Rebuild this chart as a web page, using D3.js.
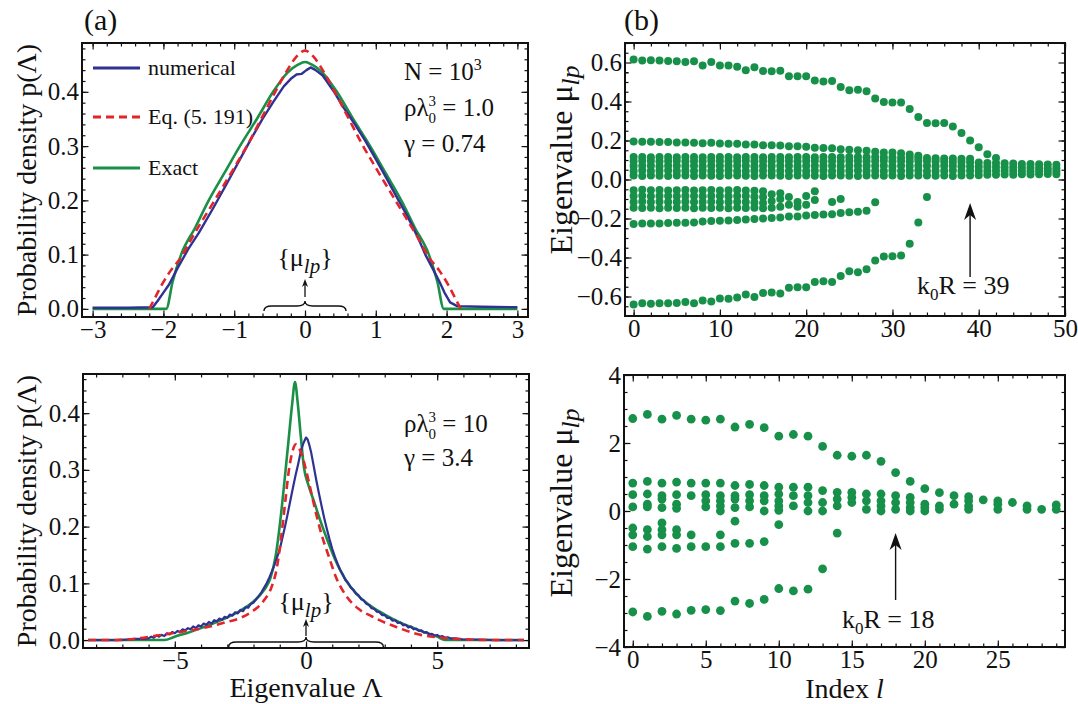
<!DOCTYPE html>
<html><head><meta charset="utf-8">
<script src="https://cdn.jsdelivr.net/npm/d3@7"></script>
<style>
body{margin:0;background:#fff}
svg{display:block}
text{font-family:"Liberation Serif","Times New Roman",serif;fill:#111}
</style>
</head><body>
<svg id="c" width="1078" height="704"></svg>
<script>
// ---------------- DATA ----------------
// Panel (a) top: N=10^3, rho*lambda^3 = 1.0
const aNumerical = [[-3,0.002],[-2.5,0.002],[-2.15,0.003],[-2.08,0.015],[-2.0,0.03],[-1.92,0.045],[-1.8,0.075],[-1.65,0.11],[-1.5,0.14],[-1.3,0.185],[-1.1,0.232],[-0.9,0.28],[-0.75,0.316],[-0.6,0.35],[-0.45,0.381],[-0.3,0.41],[-0.2,0.424],[-0.12,0.432],[-0.05,0.433],[0.02,0.44],[0.08,0.445],[0.15,0.44],[0.25,0.43],[0.4,0.402],[0.55,0.37],[0.7,0.341],[0.85,0.31],[1.0,0.276],[1.15,0.241],[1.3,0.205],[1.45,0.17],[1.6,0.13],[1.7,0.1],[1.8,0.075],[1.9,0.05],[1.97,0.03],[2.05,0.012],[2.15,0.005],[2.5,0.004],[3,0.003]];
const aEq = [[-2.2,0],[-2.12,0.02],[-2.02,0.045],[-1.9,0.07],[-1.75,0.095],[-1.6,0.13],[-1.3,0.195],[-1.0,0.26],[-0.8,0.305],[-0.6,0.355],[-0.42,0.4],[-0.25,0.44],[-0.12,0.465],[0,0.476],[0.12,0.465],[0.25,0.44],[0.42,0.4],[0.6,0.355],[0.8,0.305],[1.0,0.26],[1.3,0.195],[1.6,0.13],[1.75,0.095],[1.9,0.07],[2.02,0.045],[2.12,0.02],[2.2,0]];
const aExact = [[-3,0],[-1.96,0],[-1.87,0.05],[-1.75,0.1],[-1.55,0.15],[-1.36,0.2],[-1.14,0.25],[-0.92,0.3],[-0.68,0.35],[-0.45,0.4],[-0.25,0.435],[-0.1,0.45],[0,0.455],[0.1,0.45],[0.25,0.435],[0.45,0.4],[0.68,0.35],[0.92,0.3],[1.14,0.25],[1.36,0.2],[1.55,0.15],[1.75,0.1],[1.87,0.05],[1.96,0],[3,0]];

// Panel (a) bottom: rho*lambda^3 = 10
const cNumerical = [[-8.3,0],[-7.2,0],[-6.8,0.001],[-6.5,0.002],[-6.2,0.002],[-6.0,0.003],[-5.9,0.006],[-5.8,0.004],[-5.7,0.008],[-5.6,0.006],[-5.5,0.009],[-5.4,0.007],[-5.3,0.012],[-5.2,0.01],[-5.1,0.014],[-5.0,0.012],[-4.9,0.016],[-4.8,0.014],[-4.7,0.019],[-4.6,0.017],[-4.5,0.021],[-4.4,0.019],[-4.3,0.024],[-4.2,0.021],[-4.1,0.026],[-4.0,0.024],[-3.9,0.029],[-3.8,0.027],[-3.7,0.032],[-3.6,0.029],[-3.5,0.035],[-3.4,0.033],[-3.3,0.038],[-3.2,0.036],[-3.1,0.041],[-3.0,0.039],[-2.9,0.045],[-2.8,0.043],[-2.7,0.049],[-2.6,0.047],[-2.5,0.053],[-2.4,0.051],[-2.3,0.058],[-2.2,0.057],[-2.1,0.064],[-2.0,0.066],[-1.9,0.072],[-1.8,0.078],[-1.7,0.084],[-1.6,0.092],[-1.5,0.1],[-1.4,0.11],[-1.3,0.121],[-1.2,0.133],[-1.1,0.146],[-1.0,0.16],[-0.9,0.18],[-0.8,0.2],[-0.7,0.222],[-0.6,0.245],[-0.5,0.268],[-0.4,0.29],[-0.3,0.31],[-0.2,0.332],[-0.1,0.347],[0,0.357],[0.06,0.354],[0.12,0.345],[0.2,0.33],[0.3,0.305],[0.4,0.28],[0.5,0.257],[0.6,0.235],[0.7,0.214],[0.8,0.195],[0.9,0.177],[1.0,0.161],[1.1,0.147],[1.2,0.135],[1.3,0.124],[1.4,0.116],[1.5,0.106],[1.6,0.101],[1.7,0.093],[1.8,0.089],[1.9,0.082],[2.0,0.079],[2.1,0.072],[2.2,0.07],[2.3,0.064],[2.4,0.062],[2.5,0.056],[2.6,0.055],[2.7,0.05],[2.8,0.049],[2.9,0.044],[3.0,0.044],[3.1,0.039],[3.2,0.039],[3.3,0.034],[3.4,0.035],[3.5,0.03],[3.6,0.031],[3.7,0.026],[3.8,0.027],[3.9,0.022],[4.0,0.024],[4.1,0.019],[4.2,0.02],[4.3,0.016],[4.4,0.017],[4.5,0.013],[4.6,0.014],[4.7,0.01],[4.8,0.011],[4.9,0.008],[5.0,0.009],[5.1,0.006],[5.2,0.007],[5.3,0.004],[5.4,0.005],[5.5,0.003],[5.7,0.003],[6.0,0.001],[6.5,0.001],[7.2,0],[8.3,0]];
const cEq = [[-8.3,0],[-7.2,0],[-6.4,0.003],[-5.8,0.007],[-5.1,0.012],[-4.4,0.017],[-3.75,0.023],[-3.1,0.031],[-2.45,0.04],[-2,0.052],[-1.6,0.07],[-1.3,0.095],[-1.1,0.13],[-0.95,0.18],[-0.8,0.24],[-0.65,0.3],[-0.5,0.335],[-0.4,0.345],[-0.28,0.34],[-0.15,0.325],[0,0.3],[0.2,0.26],[0.4,0.22],[0.6,0.185],[0.85,0.15],[1.15,0.11],[1.5,0.08],[2,0.055],[2.5,0.042],[2.8,0.035],[3.5,0.022],[4.2,0.011],[5.2,0.004],[6.2,0.001],[7,0],[8.3,0]];
const cExact = [[-8.3,0],[-5.4,0],[-5.0,0.006],[-4.5,0.013],[-4,0.021],[-3.5,0.03],[-3,0.04],[-2.5,0.052],[-2,0.068],[-1.6,0.088],[-1.35,0.11],[-1.15,0.15],[-0.98,0.21],[-0.82,0.28],[-0.67,0.35],[-0.53,0.415],[-0.42,0.455],[-0.32,0.42],[-0.2,0.36],[-0.08,0.305],[0.1,0.272],[0.3,0.245],[0.55,0.21],[0.8,0.178],[1.1,0.143],[1.6,0.1],[2,0.078],[2.5,0.059],[3,0.045],[3.5,0.033],[4,0.023],[4.5,0.014],[5,0.006],[5.3,0],[8.3,0]];

// Panel (b) top: eigenvalues mu_lp vs index l (k0R = 39)
const bTop = [0.615,0.61,0.612,0.61,0.608,0.607,0.603,0.607,0.585,0.602,0.585,0.585,0.578,0.56,0.576,0.556,0.555,0.558,0.529,0.53,0.53,0.508,0.502,0.505,0.475,0.458,0.46,0.452,0.415,0.397,0.395,0.395,0.362,0.32,0.29,0.288,0.29,0.272,0.238,0.2,0.166,0.13,0.11];
const bSecond = [0.195,0.193,0.193,0.192,0.192,0.19,0.19,0.188,0.186,0.188,0.185,0.183,0.183,0.18,0.18,0.176,0.176,0.175,0.17,0.17,0.168,0.163,0.162,0.16,0.155,0.152,0.15,0.148,0.142,0.138,0.138,0.135,0.128,0.122];
const bBand1 = [0.02,0.018,0.02,0.019,0.018,0.02,0.02,0.018,0.02,0.019,0.018,0.02,0.021,0.019,0.018,0.02,0.02,0.019,0.018,0.02,0.02,0.019,0.018,0.02,0.021,0.019,0.018,0.02,0.02,0.019,0.02,0.018,0.02,0.021,0.02,0.019,0.02,0.018,0.02,0.021,0.022,0.024,0.025,0.026,0.025,0.027,0.026,0.027,0.028,0.027];
const bBand2 = [0.044,0.046,0.043,0.045,0.046,0.044,0.045,0.043,0.046,0.044,0.045,0.046,0.044,0.043,0.045,0.046,0.044,0.045,0.043,0.046,0.044,0.045,0.046,0.044,0.043,0.045,0.046,0.044,0.045,0.043,0.046,0.044,0.045,0.046,0.044,0.043,0.045,0.046,0.044,0.045,0.044,0.043,0.045,0.044,0.043,0.044,0.042,0.043,0.044,0.042];
const bBand3 = [0.069,0.071,0.07,0.068,0.07,0.071,0.069,0.07,0.068,0.071,0.07,0.069,0.07,0.071,0.068,0.07,0.069,0.071,0.07,0.068,0.07,0.071,0.069,0.07,0.068,0.071,0.07,0.069,0.07,0.071,0.068,0.07,0.069,0.071,0.07,0.068,0.07,0.069,0.068,0.067,0.066,0.065,0.064,0.063,0.062,0.06,0.06,0.059,0.058,0.058];
const bBand4 = [0.094,0.096,0.095,0.093,0.095,0.096,0.094,0.095,0.093,0.096,0.095,0.094,0.095,0.096,0.093,0.095,0.094,0.096,0.095,0.093,0.095,0.096,0.094,0.095,0.093,0.096,0.095,0.094,0.095,0.096,0.093,0.095,0.094,0.096,0.095,0.093,0.092,0.09,0.09,0.088,0.087,0.085,0.084,0.083,0.082,0.08,0.079,0.078,0.077,0.076];
const bBand5 = [0.115,0.116,0.114,0.116,0.115,0.114,0.116,0.115,0.114,0.116,0.115,0.116,0.114,0.115,0.116,0.114,0.115,0.116,0.114,0.115,0.116,0.114,0.115,0.116,0.114,0.115,0.116,0.114,0.115,0.114,0.113,0.112,0.111,0.11,0.11,0.109,0.108,0.108,0.107,0.106];
const bNegBand = [[-0.055,-0.085,-0.115,-0.145],[-0.053,-0.083,-0.113,-0.146],[-0.055,-0.086,-0.116,-0.145],[-0.054,-0.084,-0.114,-0.147],[-0.056,-0.085,-0.115,-0.145],[-0.055,-0.086,-0.116,-0.146],[-0.054,-0.084,-0.114,-0.145],[-0.056,-0.085,-0.115,-0.147],[-0.055,-0.086,-0.116,-0.145],[-0.054,-0.084,-0.114,-0.146],[-0.056,-0.085,-0.115,-0.145],[-0.055,-0.086,-0.116,-0.147],[-0.054,-0.084,-0.114,-0.145],[-0.056,-0.085,-0.115,-0.146],[-0.058,-0.088,-0.118,-0.145],[-0.06,-0.09,-0.12,-0.148],[-0.075,-0.11,-0.145],[-0.07,-0.1,-0.14],[-0.09,-0.13],[-0.115,-0.14],[-0.085,-0.13],[-0.06,-0.105],[],[-0.115],[-0.1]];
const bThird = [-0.228,-0.226,-0.225,-0.225,-0.223,-0.222,-0.222,-0.22,-0.215,-0.213,-0.212,-0.21,-0.208,-0.205,-0.203,-0.2,-0.197,-0.195,-0.19,-0.19,-0.185,-0.182,-0.18,-0.178,-0.172,-0.168,-0.165,-0.16,-0.117];
const bBottom = [-0.641,-0.635,-0.637,-0.635,-0.635,-0.633,-0.628,-0.635,-0.62,-0.625,-0.61,-0.612,-0.605,-0.59,-0.603,-0.582,-0.58,-0.585,-0.555,-0.552,-0.552,-0.525,-0.522,-0.525,-0.495,-0.47,-0.475,-0.46,-0.415,-0.395,-0.393,-0.39,-0.33,-0.22,-0.09];

// Panel (b) bottom: eigenvalues mu_lp vs index l (k0R = 18)
const dTop = [2.72,2.84,2.7,2.81,2.7,2.67,2.7,2.47,2.55,2.45,2.2,2.25,2.2,1.9,1.64,1.61,1.64,1.46,1.13,0.87,0.66,0.54,0.45,0.42,0.33,0.3,0.25];
const dMid = [[0.82,0.48,0.12],[0.87,0.5,0.2,0.12],[0.82,0.45,0.35,0.1],[0.85,0.48,0.2,0.08],[0.82,0.45],[0.82,0.48,0.3,0.12],[0.82,0.45,0.3,0.15,0.0],[0.75,0.45,0.35,0.1],[0.78,0.48,0.3,0.12],[0.75,0.45,0.3,0.0],[0.7,0.5,0.3,0.15,0.02],[0.7,0.45,0.15],[0.7,0.45,0.25,0.0],[0.6,0.25,0.0],[0.55,0.35,0.15],[0.55,0.4,0.25],[0.5,0.3,0.05],[0.5,0.3,0.15,0.0],[0.45,0.25,0.05],[0.4,0.25,0.1,0.0],[0.2,0.1,0.0],[0.15,0.05],[0.2],[0.3,0.15,0.05],[],[0.2,0.05],[],[0.15,0.05],[0.05],[0.18,0.05]];
const dNeg = [[-0.5,-0.7,-1.05],[-0.55,-0.75,-1.12],[-0.35,-0.55,-0.7,-1.05],[-0.55,-0.7,-1.1],[-0.7,-1.05],[-1.05],[-0.7,-1.05],[-0.3,-0.95],[-0.95],[-0.9],[-0.4],[],[],[],[-0.65]];
const dBottom = [-2.97,-3.1,-2.95,-3.03,-2.92,-2.9,-2.93,-2.65,-2.72,-2.6,-2.28,-2.35,-2.3,-1.7];

// tick values
const aXTicks = [-3,-2,-1,0,1,2,3];
const pYTicks = [0,0.1,0.2,0.3,0.4];
const cXTicks = [-5,0,5];
const bXTicks = [0,10,20,30,40,50];
const bYTicks = [-0.6,-0.4,-0.2,0,0.2,0.4,0.6];
const dXTicks = [0,5,10,15,20,25];
const dYTicks = [-4,-2,0,2,4];

// ---------------- DRAWING ----------------
const svg = d3.select("#c");
const BLUE = "#2f3193", RED = "#e2242b", GREEN = "#1a8f45", DOT = "#17904a";
const TICKFONT = 25;

function panel(o){
  const x = d3.scaleLinear().domain(o.xd).range([o.l,o.r]);
  const y = d3.scaleLinear().domain(o.yd).range([o.b,o.t]);
  const g = svg.append("g");
  const style = s => { s.select(".domain").remove(); s.attr("font-family",null).attr("font-size",TICKFONT).attr("color","#111"); s.selectAll("line").attr("stroke-width",1.2); };
  const xMinor = d3.range(o.xd[0]-1e-9, o.xd[1], o.xMinorStep).map(v=>Math.round(Math.ceil(v/o.xMinorStep)*o.xMinorStep*1e6)/1e6).filter(v=>v>=o.xd[0]&&v<=o.xd[1]);
  const yMinor = d3.range(o.yd[0], o.yd[1], o.yMinorStep).map(v=>Math.round(Math.ceil(v/o.yMinorStep)*o.yMinorStep*1e6)/1e6).filter(v=>v>=o.yd[0]&&v<=o.yd[1]);
  g.append("g").attr("transform",`translate(0,${o.b})`).call(d3.axisBottom(x).tickValues(xMinor).tickSize(-3.5).tickFormat("")).call(style);
  g.append("g").attr("transform",`translate(0,${o.t})`).call(d3.axisTop(x).tickValues(xMinor).tickSize(-3.5).tickFormat("")).call(style);
  g.append("g").attr("transform",`translate(${o.l},0)`).call(d3.axisLeft(y).tickValues(yMinor).tickSize(-3.5).tickFormat("")).call(style);
  g.append("g").attr("transform",`translate(${o.r},0)`).call(d3.axisRight(y).tickValues(yMinor).tickSize(-3.5).tickFormat("")).call(style);
  g.append("g").attr("transform",`translate(0,${o.b})`).call(d3.axisBottom(x).tickValues(o.xTicks).tickSize(-6.5).tickPadding(o.xPad).tickFormat(o.xFmt)).call(style);
  g.append("g").attr("transform",`translate(0,${o.t})`).call(d3.axisTop(x).tickValues(o.xTicks).tickSize(-6.5).tickFormat("")).call(style);
  g.append("g").attr("transform",`translate(${o.l},0)`).call(d3.axisLeft(y).tickValues(o.yTicks).tickSize(-6.5).tickPadding(o.yPad).tickFormat(o.yFmt)).call(style);
  g.append("g").attr("transform",`translate(${o.r},0)`).call(d3.axisRight(y).tickValues(o.yTicks).tickSize(-6.5).tickFormat("")).call(style);
  const clip = "clip"+Math.round(o.l)+"_"+Math.round(o.t);
  svg.append("clipPath").attr("id",clip).append("rect").attr("x",o.l).attr("y",o.t).attr("width",o.r-o.l).attr("height",o.b-o.t);
  const plot = g.append("g").attr("clip-path",`url(#${clip})`);
  g.append("rect").attr("x",o.l).attr("y",o.t).attr("width",o.r-o.l).attr("height",o.b-o.t).attr("fill","none").attr("stroke","#111").attr("stroke-width",2);
  return {g,plot,x,y};
}

function curve(p, data, color, dash, w, linear){
  const line = d3.line().x(d=>p.x(d[0])).y(d=>p.y(d[1])).curve(linear ? d3.curveLinear : d3.curveMonotoneX);
  p.plot.append("path").attr("d",line(data)).attr("fill","none").attr("stroke",color).attr("stroke-width",w||2.4).attr("stroke-dasharray",dash||null).attr("stroke-linejoin","round");
}

function dots(p, pts, r){
  p.plot.selectAll(null).data(pts).enter().append("circle").attr("cx",d=>p.x(d[0])).attr("cy",d=>p.y(d[1])).attr("r",r).attr("fill",DOT);
}
const series = arr => arr.map((v,i)=>[i,v]).filter(d=>d[1]!=null);
const groups = arr => arr.flatMap((vs,i)=>vs.map(v=>[i,v]));

function brace(g, x1, x2, y){
  const xm=(x1+x2)/2, h=5;
  g.append("path").attr("d",`M${x1},${y+h} Q${x1},${y} ${x1+8},${y} L${xm-8},${y} Q${xm},${y} ${xm},${y-h} Q${xm},${y} ${xm+8},${y} L${x2-8},${y} Q${x2},${y} ${x2},${y+h}`)
   .attr("fill","none").attr("stroke","#111").attr("stroke-width",1.4);
}
function arrow(g, x, y1, y2, hw, hl, sw){
  g.append("line").attr("x1",x).attr("x2",x).attr("y1",y1).attr("y2",y2+hl*0.6).attr("stroke","#111").attr("stroke-width",sw);
  g.append("path").attr("d",`M${x},${y2} L${x-hw},${y2+hl} L${x},${y2+hl*0.7} L${x+hw},${y2+hl} Z`).attr("fill","#111");
}
function mulp(g, x, y){
  const t = g.append("text").attr("x",x).attr("y",y).attr("text-anchor","middle").attr("font-size",26);
  t.append("tspan").text("{μ");
  t.append("tspan").attr("font-style","italic").attr("font-size",21).attr("dy",7).text("lp");
  t.append("tspan").attr("dy",-7).text("}");
}
function rhoLambda(g, x, y, val){
  const t = g.append("text").attr("x",x).attr("y",y).attr("font-size",25);
  t.append("tspan").text("ρλ");
  t.append("tspan").attr("font-size",15).attr("dy",7).text("0");
  t.append("tspan").attr("font-size",15).attr("dx",-7.5).attr("dy",-17).text("3");
  t.append("tspan").attr("dy",10).text(" = "+val);
}
function ylabel(x, cy, kind, fs){
  const t = svg.append("text").attr("transform",`translate(${x},${cy}) rotate(-90)`).attr("text-anchor","middle").attr("font-size",fs);
  if(kind==="p"){ t.text("Probability density p(Λ)"); }
  else { t.append("tspan").text("Eigenvalue μ"); t.append("tspan").attr("font-style","italic").attr("font-size",fs*0.8).attr("dy",7).text("lp"); }
}

const fmt1 = d3.format(".1f"), fmt0 = d3.format("d");

// ---- Panel (a) top
const A = panel({l:82,r:528,t:43,b:317,xd:[-3.15,3.15],yd:[-0.015,0.49],xTicks:aXTicks,yTicks:pYTicks,xMinorStep:0.2,yMinorStep:0.02,xFmt:fmt0,yFmt:fmt1,xPad:3,yPad:3});
curve(A, aExact, GREEN, null, 2.6);
curve(A, aNumerical, BLUE, null, 2.4, true);
curve(A, aEq, RED, "8,5", 2.6);
[["numerical",BLUE,null,68],["Eq. (5. 191)",RED,"8,5",117],["Exact",GREEN,null,168]].forEach(([lab,c,da,yy])=>{
  svg.append("line").attr("x1",93).attr("x2",140).attr("y1",yy).attr("y2",yy).attr("stroke",c).attr("stroke-width",3).attr("stroke-dasharray",da);
  svg.append("text").attr("x",148).attr("y",yy+7).attr("font-size",22).text(lab);
});
{
  const t = svg.append("text").attr("x",404).attr("y",80).attr("font-size",25);
  t.append("tspan").text("N = 10"); t.append("tspan").attr("font-size",16).attr("dy",-10).text("3");
  rhoLambda(svg, 404, 116, "1.0");
  svg.append("text").attr("x",404).attr("y",152).attr("font-size",25).text("γ  = 0.74");
  mulp(svg, A.x(0), 266);
  arrow(svg, A.x(0), 297, 279, 3, 8, 1.3);
  brace(svg, A.x(-0.58), A.x(0.58), 306);
}

// ---- Panel (a) bottom
const C = panel({l:83,r:529,t:374,b:648,xd:[-8.5,8.5],yd:[-0.014,0.469],xTicks:cXTicks,yTicks:pYTicks,xMinorStep:1,yMinorStep:0.02,xFmt:fmt0,yFmt:fmt1,xPad:3,yPad:3});
curve(C, cExact, GREEN, null, 2.6);
curve(C, cNumerical, BLUE, null, 2.2, true);
curve(C, cEq, RED, "8,5", 2.6);
rhoLambda(svg, 404, 432, "10");
svg.append("text").attr("x",404).attr("y",466).attr("font-size",25).text("γ  = 3.4");
mulp(svg, C.x(0), 610);
arrow(svg, C.x(0), 636, 619, 3, 8, 1.3);
brace(svg, C.x(-2.95), C.x(2.95), 642);
svg.append("text").attr("x",C.x(0)).attr("y",697).attr("text-anchor","middle").attr("font-size",28).text("Eigenvalue Λ");

// ---- Panel (b) top
const B = panel({l:625,r:1065,t:43,b:316,xd:[-1,50],yd:[-0.70,0.70],xTicks:bXTicks,yTicks:bYTicks,xMinorStep:2,yMinorStep:0.05,xFmt:fmt0,yFmt:fmt1,xPad:3,yPad:3});
const R1 = 4;
[bTop,bSecond,bBand1,bBand2,bBand3,bBand4,bBand5,bThird,bBottom].forEach(s=>dots(B, series(s), R1));
dots(B, groups(bNegBand), R1);
arrow(svg, B.x(39), 277, 203, 6, 17, 1.4);
{
  const t = svg.append("text").attr("x",917).attr("y",294).attr("font-size",26);
  t.append("tspan").text("k"); t.append("tspan").attr("font-size",17).attr("dy",6).text("0"); t.append("tspan").attr("dy",-6).text("R = 39");
}

// ---- Panel (b) bottom
const D = panel({l:624,r:1065,t:375,b:647,xd:[-0.6,29.6],yd:[-4,4],xTicks:dXTicks,yTicks:dYTicks,xMinorStep:1,yMinorStep:0.5,xFmt:fmt0,yFmt:fmt0,xPad:3,yPad:3});
const R2 = 4.4;
dots(D, series(dTop), R2);
dots(D, groups(dMid), R2);
dots(D, groups(dNeg), R2);
dots(D, series(dBottom), R2);
arrow(svg, D.x(18), 600, 533, 6, 17, 1.4);
{
  const t = svg.append("text").attr("x",842).attr("y",628).attr("font-size",26);
  t.append("tspan").text("k"); t.append("tspan").attr("font-size",17).attr("dy",6).text("0"); t.append("tspan").attr("dy",-6).text("R = 18");
  const u = svg.append("text").attr("x",D.x(14.5)).attr("y",698).attr("text-anchor","middle").attr("font-size",28);
  u.append("tspan").text("Index "); u.append("tspan").attr("font-style","italic").text("l");
}

// axis labels
ylabel(36, 180, "p", 28);
ylabel(36, 511, "p", 28);
ylabel(572, 160, "mu", 32);
ylabel(572, 503, "mu", 32);
svg.append("text").attr("x",84).attr("y",30).attr("font-size",30).text("(a)");
svg.append("text").attr("x",624).attr("y",30).attr("font-size",30).text("(b)");
</script>
</body></html>
